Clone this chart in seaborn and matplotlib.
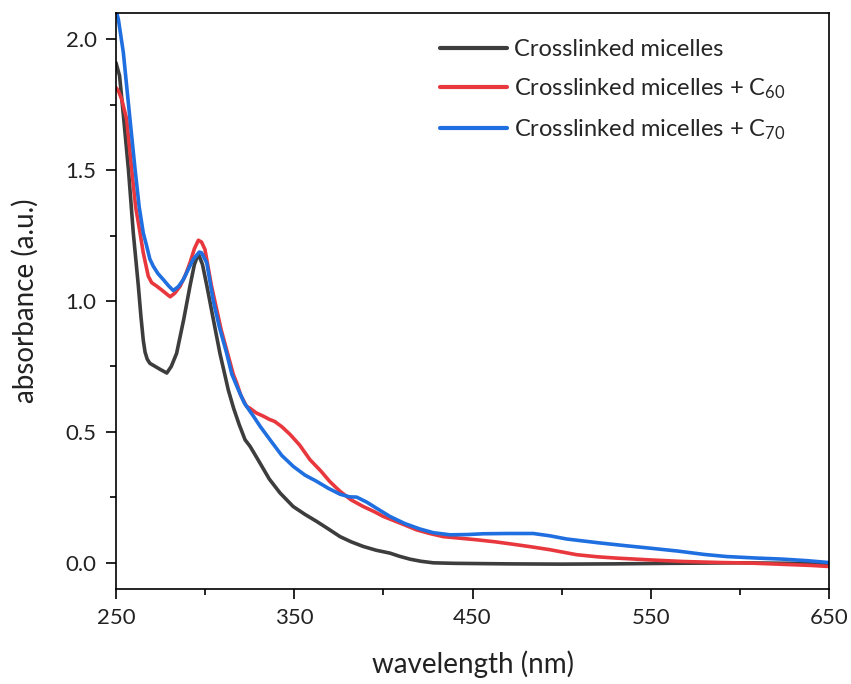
import numpy as np
import pandas as pd
import matplotlib
matplotlib.use("Agg")
import matplotlib.pyplot as plt
import seaborn as sns
from matplotlib.ticker import MultipleLocator, FormatStrFormatter

# UV-vis absorbance spectra (wavelength in nm, absorbance in a.u.)
wl_plain = [250, 252, 254, 257, 259.7, 262.5, 264, 265.3, 266.3, 267.5, 269, 272, 275, 278.5, 281, 284,
            288, 291.5, 294, 296.2, 298.5, 301, 304.6, 308.3, 311, 313, 316, 319, 322.4,
            325.2, 330, 336, 342, 349.4, 356, 362.6, 369, 375.7, 382, 388.7, 396, 403.7,
            409, 414.9, 421, 428, 440, 470, 500, 530, 560, 600, 630, 650]
abs_plain = [1.91, 1.86, 1.72, 1.50, 1.26, 1.06, 0.94, 0.85, 0.805, 0.778, 0.762, 0.75, 0.738, 0.725, 0.75, 0.80,
             0.93, 1.057, 1.14, 1.18, 1.14, 1.057, 0.93, 0.80, 0.72, 0.66, 0.59, 0.53, 0.47,
             0.445, 0.39, 0.32, 0.267, 0.215, 0.185, 0.158, 0.13, 0.10, 0.08, 0.0625, 0.048, 0.037,
             0.025, 0.014, 0.006, 0.0, -0.002, -0.004, -0.005, -0.004, -0.002, 0.0, -0.002, -0.003]

wl_c60 = [250, 251.5, 253.2, 256, 258.8, 261, 263, 265.3, 268.1, 270, 272.8, 276, 280.4, 283,
          286, 289, 291.5, 294, 296.2, 298, 299.9, 303.5, 309, 313, 315.8, 317.7, 320, 323.2,
          325.2, 328.8, 332.7, 336, 339, 343, 347.7, 353, 358.8, 365, 370, 375.7, 382, 388.7,
          395, 400, 410, 418.6, 426, 433.6, 443, 452.3, 463, 474.8, 484, 493.5, 508.4, 520,
          530.8, 550, 568.3, 590, 605.7, 625, 640, 650]
abs_c60 = [1.815, 1.80, 1.77, 1.694, 1.503, 1.36, 1.28, 1.184, 1.095, 1.07, 1.057, 1.04, 1.016, 1.03,
           1.057, 1.10, 1.146, 1.20, 1.232, 1.225, 1.197, 1.06, 0.89, 0.79, 0.72, 0.687, 0.64, 0.598,
           0.59, 0.572, 0.56, 0.548, 0.54, 0.52, 0.49, 0.45, 0.394, 0.35, 0.31, 0.273, 0.24, 0.215,
           0.195, 0.177, 0.15, 0.126, 0.112, 0.10, 0.094, 0.088, 0.08, 0.069, 0.06, 0.05, 0.031, 0.023,
           0.018, 0.011, 0.005, 0.001, -0.001, -0.006, -0.010, -0.014]

wl_c70 = [250, 251.3, 254.1, 256.9, 258.8, 260.7, 263, 265.3, 267.2, 269, 270.9, 273.5, 276.5,
          279.5, 282.1, 285, 287.8, 290.5, 293.3, 296.7, 298, 300.9, 304.6, 308, 312.1, 315,
          318.7, 322, 327.1, 331, 336.4, 343, 349.5, 356, 362.6, 369, 375.7, 381, 385, 390.6,
          397, 403.7, 412, 420.6, 428, 437.4, 447, 456.1, 470, 484.1, 493.5, 502.8, 520, 535,
          549.5, 565, 580, 592.5, 610, 624.3, 638, 650]
abs_c70 = [2.11, 2.077, 1.95, 1.758, 1.63, 1.503, 1.36, 1.26, 1.21, 1.16, 1.133, 1.105, 1.082,
           1.058, 1.04, 1.055, 1.082, 1.12, 1.159, 1.187, 1.184, 1.146, 1.0, 0.90, 0.80, 0.72,
           0.66, 0.61, 0.56, 0.52, 0.47, 0.41, 0.368, 0.335, 0.311, 0.285, 0.262, 0.252, 0.251, 0.232,
           0.205, 0.177, 0.15, 0.129, 0.115, 0.107, 0.108, 0.111, 0.112, 0.112, 0.103, 0.091, 0.077, 0.066,
           0.056, 0.045, 0.032, 0.024, 0.018, 0.014, 0.008, 0.001]

labels = ["Crosslinked micelles",
          "Crosslinked micelles + C$_{60}$",
          "Crosslinked micelles + C$_{70}$"]
colors = ["#3d3d3d", "#e8383d", "#1f6fe0"]

df = pd.concat([
    pd.DataFrame({"wavelength": wl_plain, "absorbance": abs_plain, "sample": labels[0]}),
    pd.DataFrame({"wavelength": wl_c60, "absorbance": abs_c60, "sample": labels[1]}),
    pd.DataFrame({"wavelength": wl_c70, "absorbance": abs_c70, "sample": labels[2]}),
], ignore_index=True)

sns.set_style("ticks")
plt.rcParams["font.family"] = ["Lato", "DejaVu Sans"]
plt.rcParams["mathtext.fontset"] = "custom"
plt.rcParams["mathtext.rm"] = "Lato"
plt.rcParams["mathtext.it"] = "Lato"
plt.rcParams["mathtext.bf"] = "Lato"

fig = plt.figure(figsize=(8.51, 6.84), dpi=100)
ax = fig.add_axes([116 / 851, 1 - 589 / 684, (829 - 116) / 851, (589 - 13) / 684])

sns.lineplot(data=df, x="wavelength", y="absorbance", hue="sample",
             palette=dict(zip(labels, colors)), linewidth=2.6, sort=False,
             estimator=None, ax=ax, solid_joinstyle="round", solid_capstyle="round")

ax.set_xlim(250, 650)
ax.set_ylim(-0.1, 2.1)
ax.xaxis.set_major_locator(MultipleLocator(100, offset=50))
ax.xaxis.set_minor_locator(MultipleLocator(50))
ax.yaxis.set_major_locator(MultipleLocator(0.5))
ax.yaxis.set_minor_locator(MultipleLocator(0.25))
ax.yaxis.set_major_formatter(FormatStrFormatter("%.1f"))

for side in ["top", "right", "bottom", "left"]:
    ax.spines[side].set_visible(True)
    ax.spines[side].set_color("black")
    ax.spines[side].set_linewidth(1.2)

ax.tick_params(which="major", direction="out", length=7.5, width=1.2, labelsize=16,
               top=False, right=False, colors="black", labelcolor="#222222", pad=6)
ax.tick_params(which="minor", direction="out", length=4, width=1.2,
               top=False, right=False, colors="black")
ax.tick_params(axis="y", which="major", pad=6.5)

ax.set_xlabel("wavelength (nm)", fontsize=20, color="#222222", labelpad=16)
ax.set_ylabel("absorbance (a.u.)", fontsize=20, color="#222222", labelpad=19)

leg = ax.legend(loc="upper left", bbox_to_anchor=((440 - 116) / 713, (589 - 39) / 576),
                frameon=False, fontsize=17, handlelength=2.85, handletextpad=0.3,
                labelspacing=0.69, borderpad=0, borderaxespad=0)
for line in leg.get_lines():
    line.set_linewidth(3.0)

fig.savefig("out.png", dpi=100)
